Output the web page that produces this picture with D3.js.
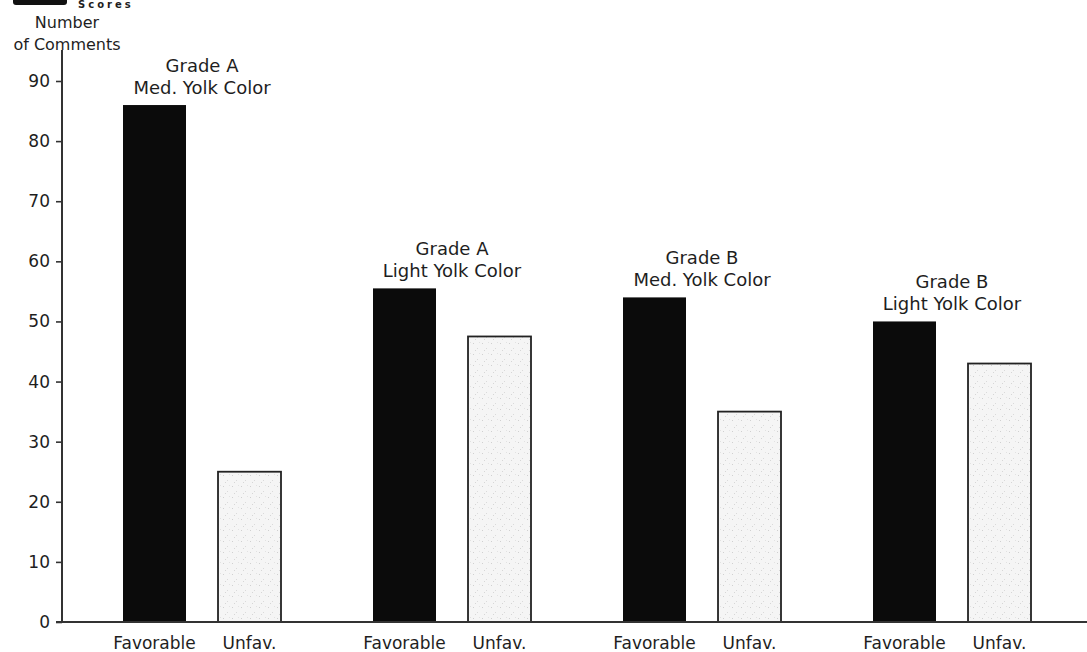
<!DOCTYPE html>
<html>
<head>
<meta charset="utf-8">
<script src="https://cdn.jsdelivr.net/npm/d3@7"></script>
<style>
  html, body { margin: 0; padding: 0; background: #fff; }
  svg { display: block; }
  text { font-family: "DejaVu Sans", sans-serif; fill: #1e1e1e; }
</style>
</head>
<body>
<svg id="chart" width="1087" height="652"></svg>
<script>
// Comment counts per egg lot
const groups = ["Grade A|Med. Yolk Color", "Grade A|Light Yolk Color", "Grade B|Med. Yolk Color", "Grade B|Light Yolk Color"];
const kinds = ["Favorable", "Unfav."];
const favorable = [86, 55.5, 54, 50];
const unfavorable = [25, 47.5, 35, 43];
const yTicks = [0, 10, 20, 30, 40, 50, 60, 70, 80, 90];

const svg = d3.select("#chart");
const W = 1087, H = 652;

const x0 = d3.scaleBand().domain(groups).range([123, 1031]).paddingInner(0.368).paddingOuter(0);
const x1 = d3.scaleBand().domain(kinds).range([0, x0.bandwidth()]).paddingInner(0.337).paddingOuter(0);
const y = d3.scaleLinear().domain([0, 90]).range([622, 81]);

// stipple fill for the unfavourable bars
const defs = svg.append("defs");
const pat = defs.append("pattern").attr("id", "stipple")
  .attr("patternUnits", "userSpaceOnUse").attr("width", 9).attr("height", 11);
pat.append("rect").attr("width", 9).attr("height", 11).attr("fill", "#f5f5f5");
[[1, 2, "#d0d0d0"], [5, 7, "#dadada"], [7, 1, "#e2e2e2"], [3, 9, "#d6d6d6"]].forEach(([cx, cy, c]) => {
  pat.append("rect").attr("x", cx).attr("y", cy).attr("width", 1).attr("height", 1).attr("fill", c);
});

// heading strip at the very top
svg.append("rect").attr("x", 13).attr("y", -8).attr("width", 54).attr("height", 13)
  .attr("rx", 3).attr("fill", "#111");
svg.append("text").attr("x", 78).attr("y", 8).attr("font-size", 10).attr("font-weight", "bold")
  .attr("letter-spacing", 3).text("Scores");

// y-axis title
const yTitle = svg.append("text").attr("text-anchor", "middle").attr("font-size", 16);
yTitle.append("tspan").attr("x", 67).attr("y", 28).text("Number");
yTitle.append("tspan").attr("x", 67).attr("y", 50).text("of Comments");

// bars
const data = groups.map((g, i) => ({ g, values: [
  { kind: kinds[0], v: favorable[i] },
  { kind: kinds[1], v: unfavorable[i] }
]}));

const gSel = svg.append("g").selectAll("g").data(data).join("g")
  .attr("transform", d => `translate(${x0(d.g)},0)`);

gSel.selectAll("rect").data(d => d.values).join("rect")
  .attr("x", d => x1(d.kind))
  .attr("y", d => y(d.v))
  .attr("width", x1.bandwidth())
  .attr("height", d => y(0) - y(d.v))
  .attr("fill", d => d.kind === kinds[0] ? "#0b0b0b" : "url(#stipple)")
  .attr("stroke", d => d.kind === kinds[0] ? "none" : "#222")
  .attr("stroke-width", 1.8);

// group captions above each pair
gSel.each(function(d) {
  const [l1, l2] = d.g.split("|");
  const cx = x0.bandwidth() / 2;
  const top = y(d.values[0].v);
  const t = d3.select(this).append("text").attr("text-anchor", "middle").attr("font-size", 18);
  t.append("tspan").attr("x", cx).attr("y", top - 33).text(l1);
  t.append("tspan").attr("x", cx).attr("y", top - 11).text(l2);
});

// bar labels under the baseline
gSel.selectAll("text.kind").data(d => d.values).join("text")
  .attr("class", "kind")
  .attr("x", d => x1(d.kind) + x1.bandwidth() / 2)
  .attr("y", 649)
  .attr("text-anchor", "middle")
  .attr("font-size", 17)
  .text(d => d.kind);

// y axis
const yAxis = d3.axisLeft(y).tickValues(yTicks).tickSize(6).tickPadding(6).tickFormat(d3.format("d"));
const ax = svg.append("g").attr("transform", "translate(62,0)").call(yAxis);
ax.select(".domain").remove();
ax.selectAll(".tick line").attr("stroke", "#333").attr("stroke-width", 1.6);
ax.selectAll(".tick text").attr("font-size", 17).attr("font-family", "DejaVu Sans, sans-serif").attr("fill", "#1e1e1e");

svg.append("line").attr("x1", 62).attr("x2", 62).attr("y1", 50).attr("y2", y(0))
  .attr("stroke", "#333").attr("stroke-width", 2);
svg.append("line").attr("x1", 56).attr("x2", W).attr("y1", y(0)).attr("y2", y(0))
  .attr("stroke", "#333").attr("stroke-width", 2);
</script>
</body>
</html>
